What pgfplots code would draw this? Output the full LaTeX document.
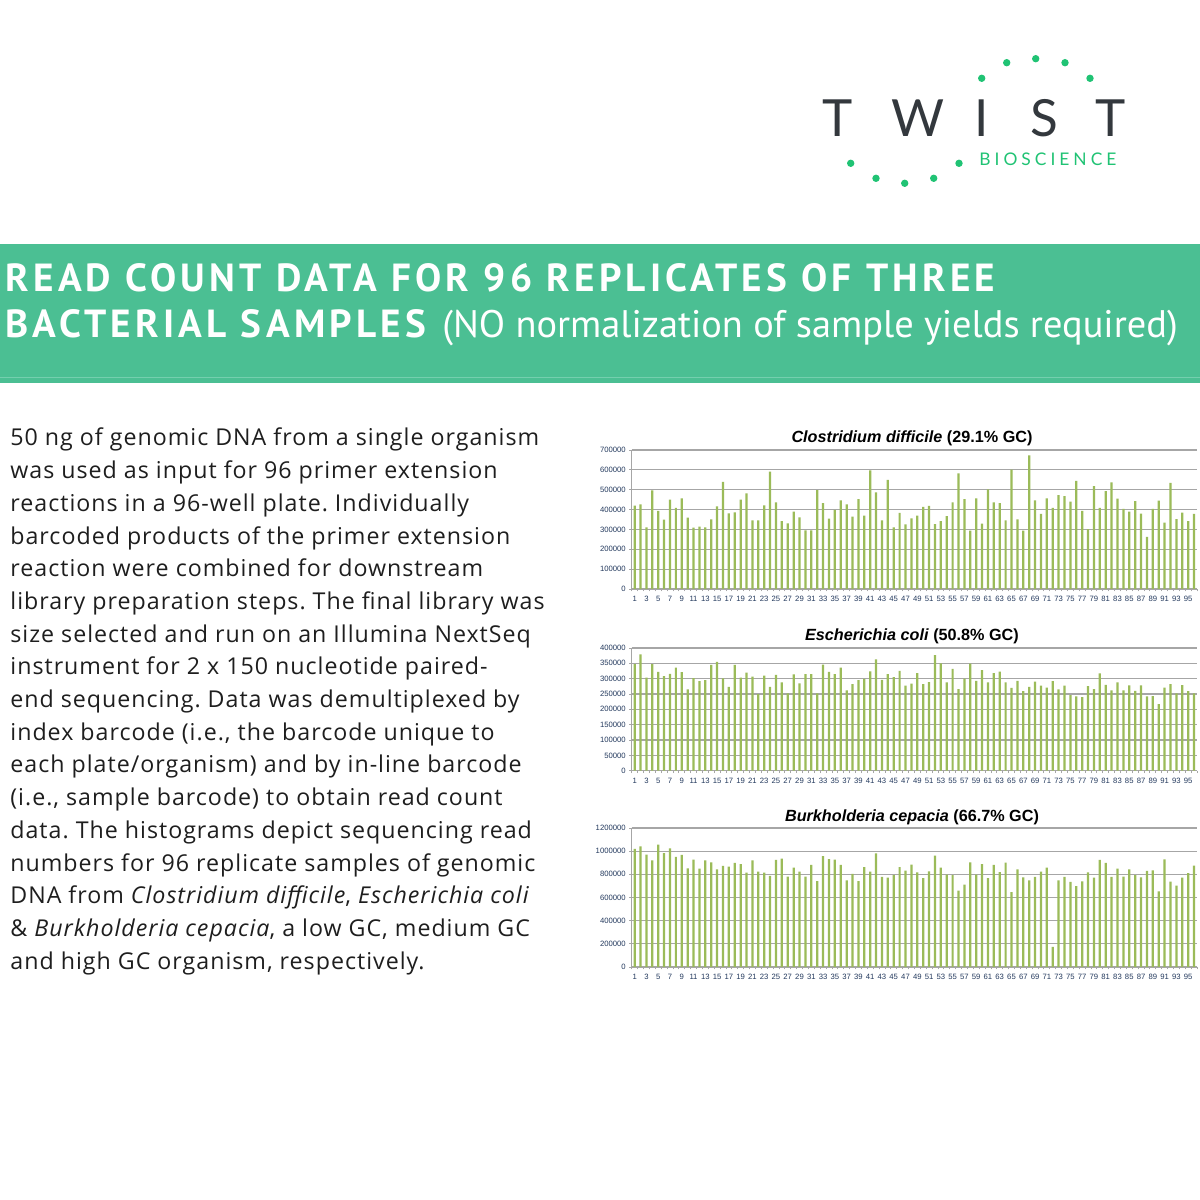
\documentclass[border=0pt]{standalone}
\usepackage{pgfplots}
\pgfplotsset{compat=1.18}
\usepackage{pgfplotstable}
\usepackage{fontspec}
\setmainfont[LetterSpace=4.3]{Open Sans}
\newfontfamily\arial{Liberation Sans}
\newfontfamily\titlefont[LetterSpace=10.9]{PT Sans}
\newfontfamily\titleregfont{PT Sans}
\newfontfamily\logofont{Lato}
\newfontfamily\biofont[LetterSpace=23]{Lato}
\definecolor{banner}{HTML}{4BBF93}
\definecolor{bannerline}{HTML}{74CFAE}
\definecolor{twistgreen}{HTML}{20C374}
\definecolor{twistgray}{HTML}{33383D}
\definecolor{bargreen}{HTML}{9BBB59}
\definecolor{gridgray}{HTML}{A6A6A6}
\definecolor{ticknavy}{HTML}{243A5E}
\definecolor{bodytext}{HTML}{1E1E1E}

\pgfplotstableread{
n v
1 420000
2 426000
3 310000
4 497000
5 394000
6 349000
7 450000
8 408000
9 456000
10 359000
11 309000
12 314000
13 310000
14 351000
15 416000
16 539000
17 381000
18 386000
19 450000
20 482000
21 346000
22 346000
23 421000
24 591000
25 436000
26 342000
27 331000
28 389000
29 361000
30 295000
31 295000
32 498000
33 433000
34 354000
35 399000
36 446000
37 426000
38 364000
39 453000
40 369000
41 597000
42 487000
43 346000
44 549000
45 310000
46 383000
47 326000
48 356000
49 369000
50 414000
51 419000
52 327000
53 342000
54 367000
55 436000
56 582000
57 453000
58 294000
59 456000
60 329000
61 502000
62 436000
63 433000
64 346000
65 601000
66 351000
67 294000
68 673000
69 446000
70 378000
71 456000
72 409000
73 473000
74 468000
75 440000
76 545000
77 393000
78 302000
79 518000
80 409000
81 493000
82 537000
83 455000
84 403000
85 389000
86 443000
87 379000
88 262000
89 403000
90 445000
91 334000
92 534000
93 352000
94 384000
95 342000
96 378000
}\cdiff

\pgfplotstableread{
n v
1 347000
2 379000
3 303000
4 347000
5 322000
6 308000
7 316000
8 336000
9 321000
10 265000
11 302000
12 292000
13 295000
14 345000
15 355000
16 301000
17 273000
18 345000
19 303000
20 320000
21 307000
22 250000
23 310000
24 273000
25 312000
26 288000
27 252000
28 314000
29 285000
30 315000
31 315000
32 252000
33 346000
34 322000
35 315000
36 336000
37 262000
38 282000
39 295000
40 299000
41 324000
42 363000
43 296000
44 315000
45 305000
46 325000
47 277000
48 284000
49 318000
50 282000
51 289000
52 377000
53 350000
54 288000
55 332000
56 266000
57 300000
58 349000
59 293000
60 328000
61 288000
62 318000
63 323000
64 288000
65 270000
66 293000
67 259000
68 273000
69 290000
70 277000
71 271000
72 292000
73 265000
74 277000
75 246000
76 242000
77 240000
78 276000
79 266000
80 317000
81 280000
82 262000
83 288000
84 262000
85 278000
86 260000
87 278000
88 242000
89 243000
90 217000
91 271000
92 282000
93 252000
94 279000
95 259000
96 252000
}\ecoli

\pgfplotstableread{
n v
1 1019000
2 1042000
3 970000
4 921000
5 1056000
6 984000
7 1024000
8 950000
9 967000
10 852000
11 927000
12 849000
13 921000
14 904000
15 843000
16 872000
17 866000
18 898000
19 889000
20 814000
21 921000
22 823000
23 814000
24 786000
25 924000
26 935000
27 780000
28 858000
29 823000
30 780000
31 881000
32 742000
33 958000
34 932000
35 927000
36 881000
37 748000
38 803000
39 742000
40 863000
41 823000
42 981000
43 777000
44 771000
45 794000
46 863000
47 832000
48 883000
49 817000
50 768000
51 826000
52 961000
53 858000
54 797000
55 794000
56 659000
57 711000
58 904000
59 797000
60 889000
61 768000
62 881000
63 820000
64 901000
65 647000
66 843000
67 774000
68 748000
69 777000
70 823000
71 858000
72 173000
73 748000
74 777000
75 734000
76 699000
77 740000
78 817000
79 771000
80 924000
81 898000
82 777000
83 849000
84 780000
85 843000
86 794000
87 774000
88 829000
89 835000
90 653000
91 930000
92 737000
93 702000
94 771000
95 811000
96 875000
}\bcep

\pgfplotsset{
  readbars/.style={
    scale only axis, width=282.65pt,
    xmin=0.5, xmax=96.5, ymin=0,
    ybar, bar width=0.38,
    axis x line*=bottom, axis y line*=left,
    axis line style={gridgray, line width=0.5pt},
    ymajorgrids, grid style={gridgray, line width=0.6pt},
    xtick={1,3,...,95},
    minor xtick={0.5,1.5,...,96.5},
    major x tick style={draw=none},
    minor x tick style={gridgray, line width=0.4pt},
    minor tick length=1.2pt,
    major tick length=1.2pt,
    y tick style={gridgray, line width=0.4pt},
    tick align=outside,
    tick pos=left,
    scaled y ticks=false,
    /pgf/number format/assume math mode=true,
    ticklabel style={font=\arial\fontsize{3.85}{4}\selectfont, text=ticknavy},
    yticklabel style={/pgf/number format/fixed, /pgf/number format/1000 sep={}, inner sep=0pt, xshift=-1.6pt},
    xticklabel style={inner sep=0pt, yshift=-2.2pt},
  }
}

\begin{document}
\frenchspacing
\begin{tikzpicture}
\path[use as bounding box, fill=white] (0,0) rectangle (600pt,600pt);

\begin{scope}[yshift=600pt, x=0.5pt, y=-0.5pt]
  % banner
  \fill[banner] (0,244) rectangle (1200,383);
  \draw[bannerline, line width=0.5pt] (0,378) -- (1200,378);
  \node[anchor=base west, inner sep=0, text=white, font=\titlefont\bfseries\fontsize{19.6}{22}\selectfont] at (5,292) {READ COUNT DATA FOR 96 REPLICATES OF THREE};
  \node[anchor=base west, inner sep=0, text=white, font=\titlefont\bfseries\fontsize{19.6}{22}\selectfont] at (5,338) {BACTERIAL SAMPLES};
  \node[anchor=base west, inner sep=0, text=white, font=\titleregfont\fontsize{19.2}{22}\selectfont] at (442,338) {(NO normalization of sample yields required)};

  % logo
  \foreach \cx/\cy in {981.7/78.3, 1006.7/62.7, 1035.7/58.7, 1065/62.7, 1090/78.3, 850.7/163.3, 876/178.3, 904.7/183.3, 933.7/178.3, 959/163.3}
    \fill[twistgreen] (\cx,\cy) circle (1.85pt);
  \foreach \lx/\lt in {838/T, 918/W, 981.5/I, 1044/S, 1111/T}
    \node[anchor=base, inner sep=0, text=twistgray, font=\logofont\fontsize{25.6}{28}\selectfont] at (\lx,136.7) {\lt};
  \node[anchor=base west, inner sep=0, text=twistgreen, font=\biofont\fontsize{8.7}{10}\selectfont] at (979,165.7) {BIOSCIENCE};

  % body text
  \begin{scope}[every node/.style={anchor=base west, inner sep=0, text=bodytext, font=\fontsize{11.6}{13}\selectfont}]
    \node at (10,446) {50 ng of genomic DNA from a single organism};
    \node at (10,478.7) {was used as input for 96 primer extension};
    \node at (10,511.4) {reactions in a 96-well plate. Individually};
    \node at (10,544.1) {barcoded products of the primer extension};
    \node at (10,576.8) {reaction were combined for downstream};
    \node at (10,609.5) {library preparation steps. The final library was};
    \node at (10,642.2) {size selected and run on an Illumina NextSeq};
    \node at (10,674.9) {instrument for 2 x 150 nucleotide paired-};
    \node at (10,707.6) {end sequencing. Data was demultiplexed by};
    \node at (10,740.3) {index barcode (i.e., the barcode unique to};
    \node at (10,773) {each plate/organism) and by in-line barcode};
    \node at (10,805.7) {(i.e., sample barcode) to obtain read count};
    \node at (10,838.4) {data. The histograms depict sequencing read};
    \node at (10,871.1) {numbers for 96 replicate samples of genomic};
    \node at (10,903.8) {DNA from \textit{Clostridium difficile}, \textit{Escherichia coli}};
    \node at (10,936.5) {\& \textit{Burkholderia cepacia}, a low GC, medium GC};
    \node at (10,969.2) {and high GC organism, respectively.};
  \end{scope}

  % chart titles
  \begin{scope}[every node/.style={anchor=base, inner sep=0, text=black, font=\arial\bfseries\fontsize{8.1}{9}\selectfont}]
    \node at (912,443) {\textit{Clostridium difficile} (29.1\% GC)};
    \node at (912,641) {\textit{Escherichia coli} (50.8\% GC)};
    \node at (912,822) {\textit{Burkholderia cepacia} (66.7\% GC)};
  \end{scope}
\end{scope}

% chart 1
\begin{axis}[readbars, at={(315.85pt,305.5pt)}, anchor=south west, height=69.5pt,
  ymax=700000, ytick={0,100000,...,700000}]
  \addplot[fill=bargreen, draw=none] table[x=n, y=v] {\cdiff};
\end{axis}

% chart 2
\begin{axis}[readbars, at={(315.85pt,214.65pt)}, anchor=south west, height=61.35pt,
  ymax=400000, ytick={0,50000,...,400000}]
  \addplot[fill=bargreen, draw=none] table[x=n, y=v] {\ecoli};
\end{axis}

% chart 3
\begin{axis}[readbars, at={(315.85pt,116.5pt)}, anchor=south west, height=69.5pt,
  ymax=1200000, ytick={0,200000,...,1200000}]
  \addplot[fill=bargreen, draw=none] table[x=n, y=v] {\bcep};
\end{axis}
\end{tikzpicture}
\end{document}
